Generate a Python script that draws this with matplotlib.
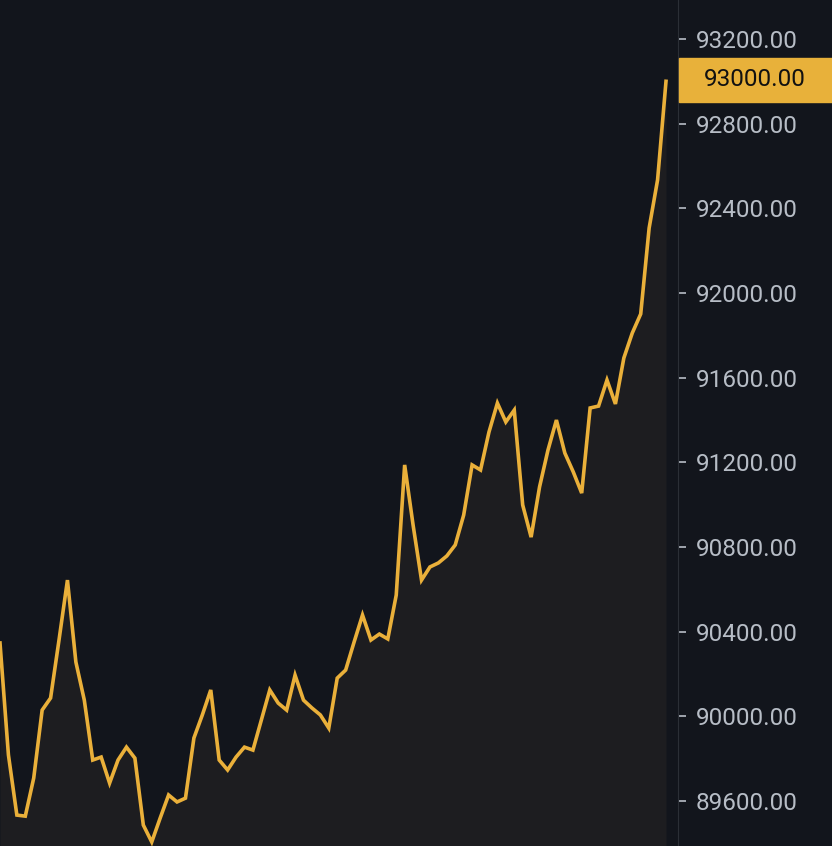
import numpy as np
import matplotlib.pyplot as plt
from matplotlib.patches import Rectangle

plt.rcParams['font.family'] = ['Roboto', 'DejaVu Sans']

prices = [90347, 89818, 89534, 89529, 89709, 90030, 90087, 90361, 90644, 90257,
          90077, 89794, 89808, 89685, 89794, 89855, 89803, 89487, 89407, 89520,
          89629, 89596, 89614, 89898, 90007, 90125, 89794, 89747, 89808, 89855,
          89841, 89983, 90125, 90063, 90030, 90195, 90077, 90040, 90007, 89945,
          90181, 90219, 90351, 90479, 90361, 90389, 90366, 90573, 91188, 90904,
          90644, 90706, 90725, 90758, 90810, 90951, 91188, 91164, 91343, 91480,
          91391, 91447, 90999, 90847, 91084, 91258, 91400, 91244, 91155, 91055,
          91457, 91466, 91589, 91476, 91693, 91811, 91901, 92307, 92534, 93000]
ticks = [89600, 90000, 90400, 90800, 91200, 91600, 92000, 92400, 92800, 93200]
last_price = 93000

bg = '#12151c'
fig = plt.figure(figsize=(8.32, 8.46), dpi=100, facecolor=bg)
ax = fig.add_axes([0, 0, 678/832, 1], facecolor=bg)

x = np.arange(len(prices))
step = 666 / (len(prices) - 1)
ax.set_xlim(0, 678 / step)
ax.set_ylim(89388, 93384)
ax.fill_between(x, prices, 89388, color='#1d1d20', lw=0)
ax.plot(x, prices, color='#eab03a', lw=2.6, solid_joinstyle='miter')

for s in ['top', 'left', 'bottom']:
    ax.spines[s].set_visible(False)
ax.spines['right'].set_color('#2b2f36')
ax.set_xticks([])
ax.yaxis.tick_right()
ax.set_yticks(ticks)
ax.set_yticklabels([f'{t:.2f}' for t in ticks])
ax.tick_params(axis='y', colors='#b7bdc6', labelsize=17.5, length=6, width=1.2, pad=7)

# last price marker
fig.patches.append(Rectangle((679/832, 1 - 102/846), 153/832, 44/846,
                             transform=fig.transFigure, color='#e8b13a', zorder=5))
fig.text(755/832, 1 - 80/846, f'{last_price:.2f}', ha='center', va='center',
         fontsize=17.5, color='#111111', zorder=6)

fig.savefig('out.png', dpi=100, facecolor=bg)
